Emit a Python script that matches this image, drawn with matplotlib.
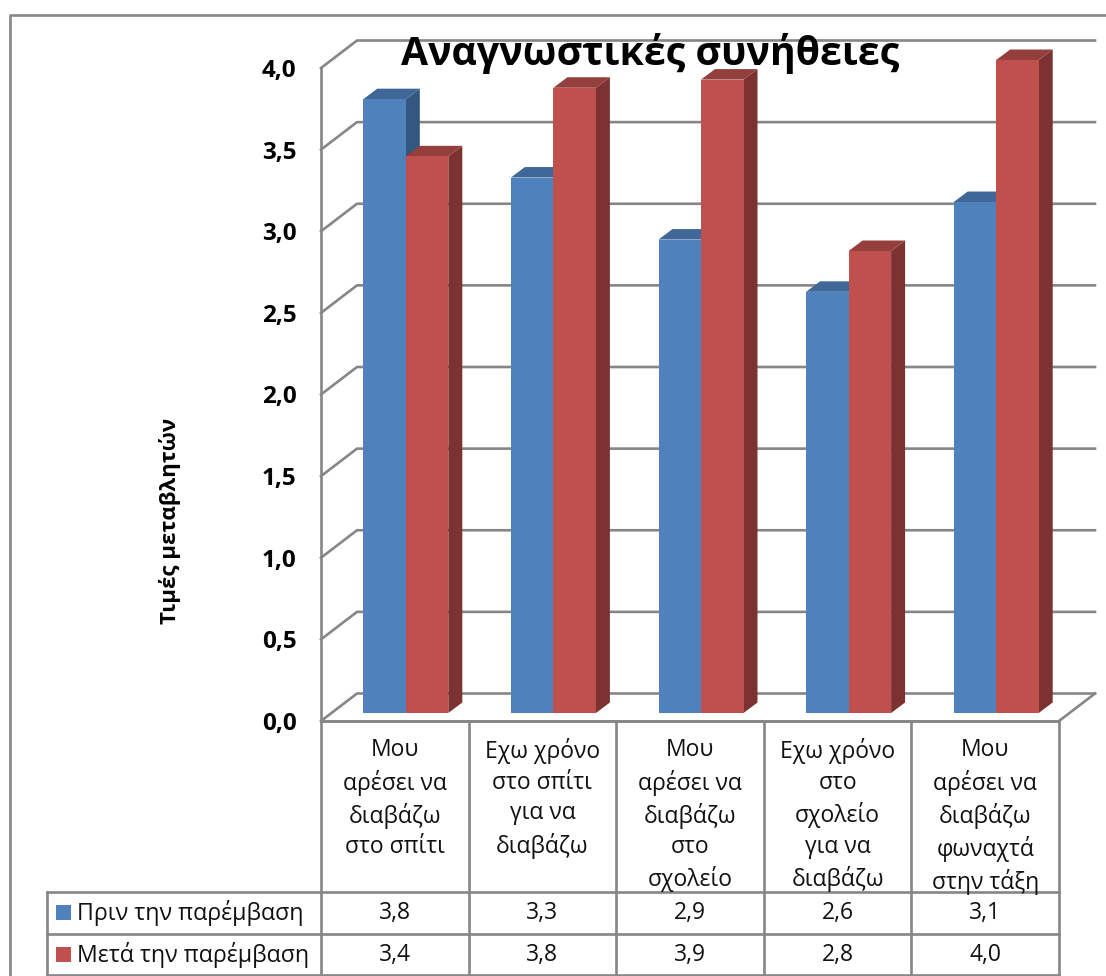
import matplotlib
matplotlib.use("Agg")
import matplotlib.pyplot as plt
from matplotlib.patches import Polygon, Rectangle
from matplotlib.transforms import blended_transform_factory as blend

plt.rcParams['font.family'] = ['Open Sans', 'DejaVu Sans']

TITLE = "Αναγνωστικές συνήθειες"
YLABEL = "Τιμές μεταβλητών"
categories = ["Μου\nαρέσει να\nδιαβάζω\nστο σπίτι",
              "Εχω χρόνο\nστο σπίτι\nγια να\nδιαβάζω",
              "Μου\nαρέσει να\nδιαβάζω\nστο\nσχολείο",
              "Εχω χρόνο\nστο\nσχολείο\nγια να\nδιαβάζω",
              "Μου\nαρέσει να\nδιαβάζω\nφωναχτά\nστην τάξη"]
series_names = ["Πριν την παρέμβαση", "Μετά την παρέμβαση"]
before = [3.76, 3.28, 2.90, 2.58, 3.13]
after = [3.41, 3.83, 3.88, 2.83, 4.00]
yticks = [0, 0.5, 1, 1.5, 2, 2.5, 3, 3.5, 4]

W, H = 1106, 976
L, R, T, B = 321, 1059, 68, 721
GRID = '#868686'
LW = 1.9
front = ['#4F81BD', '#C0504D']
top = ['#3F6797', '#953F3D']
side = ['#335781', '#7B3230']

fig = plt.figure(figsize=(W / 100, H / 100), dpi=100, facecolor='white')
ov = fig.add_axes([0, 0, 1, 1], zorder=0)
ov.set_xlim(0, W); ov.set_ylim(H, 0); ov.axis('off')
ax = fig.add_axes([L / W, 1 - B / H, (R - L) / W, (B - T) / H], zorder=1)
ax.patch.set_alpha(0)
ax.set_xlim(0, 5); ax.set_ylim(0, 4)
PX = 5 / (R - L); PY = 4 / (B - T)

# 3D wall geometry
DX, DY = 36 * PX, 27.5 * PY
for v in yticks:
    ax.plot([0, DX, 5 + DX], [v, v + DY, v + DY], color=GRID, lw=LW, clip_on=False, zorder=1)
ax.plot([5, 5 + DX], [0, DY], color=GRID, lw=LW, clip_on=False, zorder=1)
ax.plot([0, 5], [0, 0], color=GRID, lw=LW, clip_on=False, zorder=1)

# bars
bw = 42.5 * PX
ox, oy = 11 * PX, 8 * PY
dx, dy = 14 * PX, 10.5 * PY
z = 2
for i in range(len(categories)):
    for j, vals in enumerate((before, after)):
        v = vals[i]
        x0 = i + 0.5 + ox + (j - 1) * bw
        x1 = x0 + bw
        ax.add_patch(Polygon([(x1, oy), (x1 + dx, oy + dy), (x1 + dx, oy + v + dy), (x1, oy + v)],
                             fc=side[j], ec='none', zorder=z, clip_on=False))
        ax.add_patch(Polygon([(x0, oy + v), (x0 + dx, oy + v + dy), (x1 + dx, oy + v + dy), (x1, oy + v)],
                             fc=top[j], ec='none', zorder=z, clip_on=False))
        ax.bar(x0, v, width=bw, bottom=oy, align='edge', color=front[j], zorder=z + 1, clip_on=False)
        z += 2

# axes
for s in ['top', 'right', 'bottom']:
    ax.spines[s].set_visible(False)
ax.spines['left'].set_color(GRID); ax.spines['left'].set_linewidth(LW)
ax.set_yticks(yticks)
ax.set_yticklabels([f"{v:.1f}".replace('.', ',') for v in yticks], fontsize=17.5, fontweight='bold')
ax.tick_params(axis='y', length=0, pad=17.5)
ax.set_xticks([i + 0.5 for i in range(5)])
ax.set_xticklabels(categories, fontsize=16.5, linespacing=1.36, color='#111111')
ax.tick_params(axis='x', length=0, pad=12.5)

# table
rows_y = [721, 892, 934, 975]
T_X = [321 + i * (R - L) / 5 for i in range(6)]
for y in rows_y:
    ov.plot([47 if y != 721 else 321, R], [y, y], color=GRID, lw=LW, clip_on=False)
for x in T_X:
    ov.plot([x, x], [721, 975], color=GRID, lw=LW)
ov.plot([47, 47], [892, 975], color=GRID, lw=LW)
# outer frame
ov.plot([9.5, 9.5, W], [H, 15, 15], color=GRID, lw=LW)

tr = blend(ax.transData, ov.transData)
for r, vals in enumerate((before, after)):
    yc = 913.5 + r * 41.5
    ov.add_patch(Rectangle((56, yc - 8.5), 15, 15, fc=front[r], ec='none'))
    ov.text(77, yc, series_names[r], fontsize=16.7, va='center', ha='left', color='#111111')
    for i, v in enumerate(vals):
        ax.text(i + 0.5, yc, f"{v:.1f}".replace('.', ','), transform=tr, fontsize=16.5,
                ha='center', va='center', color='#111111')

ax.text(650, 53.5, TITLE, transform=ov.transData, fontsize=28.3, fontweight='bold',
        ha='center', va='center', zorder=100, clip_on=False)
ov.text(170, 521, YLABEL, fontsize=16, fontweight='bold', rotation=90, ha='center', va='center')

fig.savefig('out.png', dpi=100)
